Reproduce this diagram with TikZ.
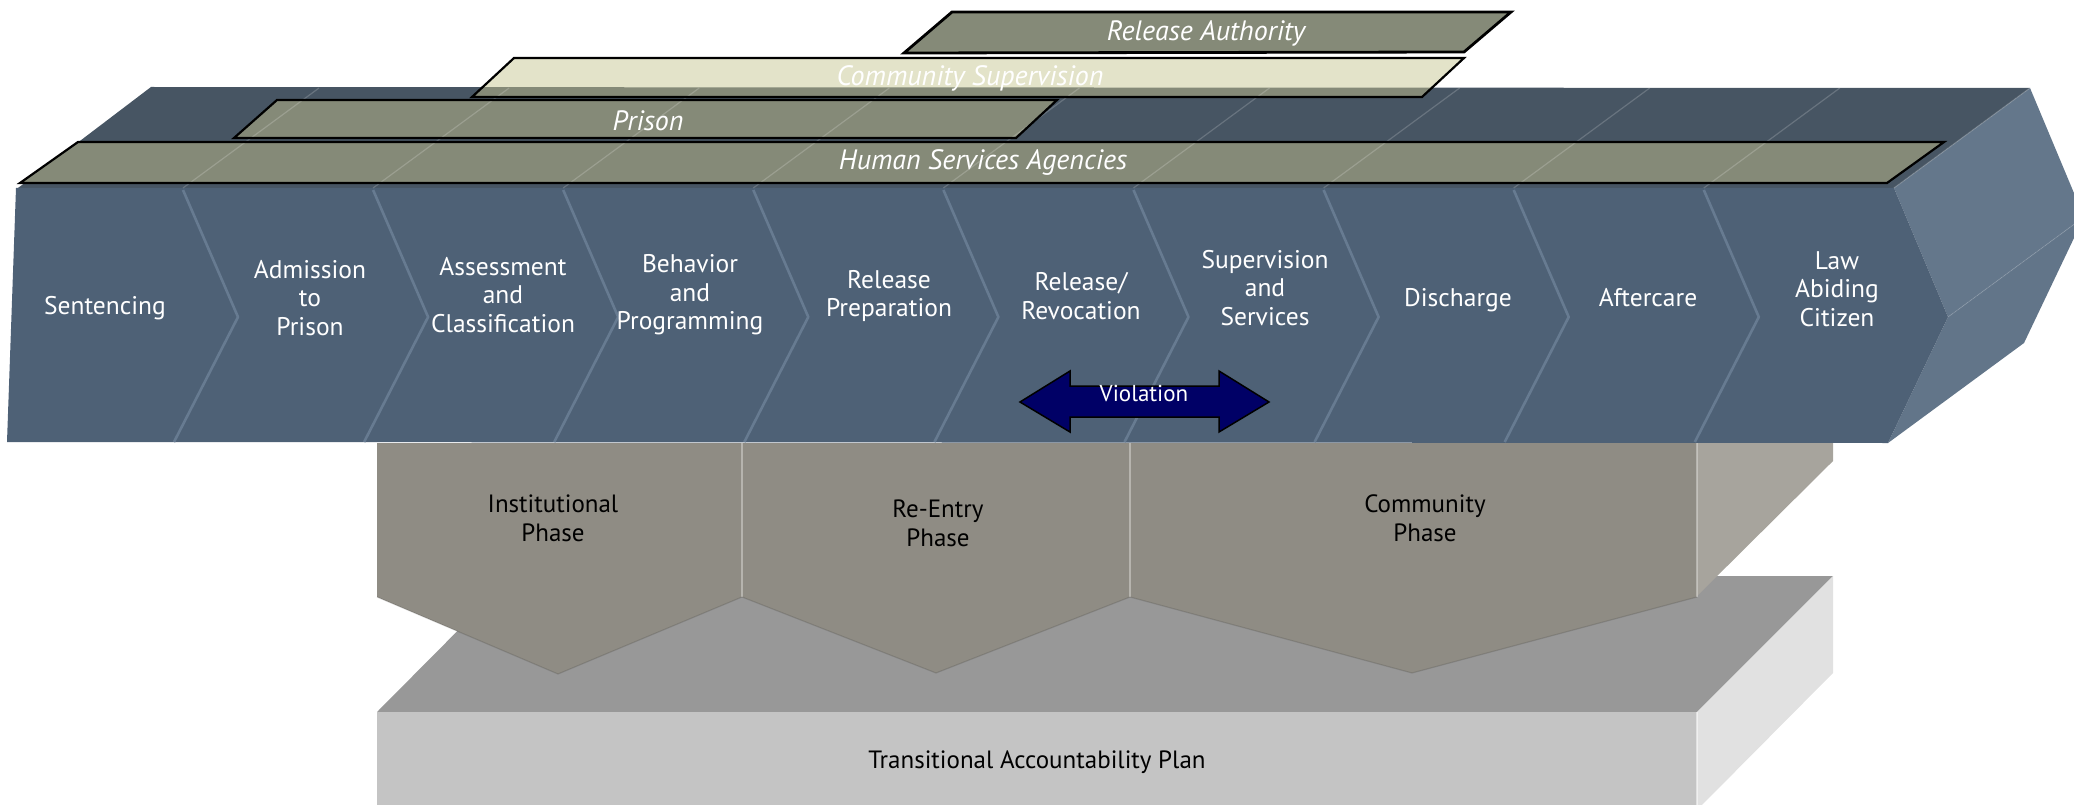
\documentclass[tikz,border=0pt]{standalone}
\usepackage{fontspec}
\setmainfont{PT Sans}
\definecolor{frontblue}{HTML}{4E6176}
\definecolor{topblue}{HTML}{475563}
\definecolor{sideblueA}{HTML}{64778B}
\definecolor{sideblueB}{HTML}{627589}
\definecolor{divblue}{HTML}{677B91}
\definecolor{olive}{HTML}{858A78}
\definecolor{beige}{HTML}{E3E3C9}
\definecolor{navy}{HTML}{000066}
\definecolor{phasegrey}{HTML}{8F8C84}
\definecolor{phaseside}{HTML}{A7A49D}
\definecolor{slabtop}{HTML}{989898}
\definecolor{slabfront}{HTML}{C4C4C4}
\definecolor{slabside}{HTML}{E1E1E1}
\tikzset{
  steplabel/.style={text=white, align=center, inner sep=0pt, font=\fontsize{25.5}{28.5}\selectfont},
  bandlabel/.style={text=white, inner sep=0pt, font=\fontsize{28}{30}\selectfont\itshape},
  phaselabel/.style={text=black, align=center, inner sep=0pt, font=\fontsize{25}{29}\selectfont},
  bandbox/.style={draw=black, line width=2.2pt, line join=miter},
  divline/.style={draw=divblue, line width=2.6pt, line join=round},
  faintline/.style={draw=white, draw opacity=0.18, line width=1.2pt},
}
\begin{document}
\begin{tikzpicture}[x=1pt,y=-1pt]
\useasboundingbox (0,0) rectangle (2074,805);

% ---- base slab
\fill[slabtop] (377,712) -- (512,576) -- (1833,576) -- (1697,712) -- cycle;
\fill[slabfront] (377,712) rectangle (1697,805);
\fill[slabside] (1697,712) -- (1833,576) -- (1833,673) -- (1697,810) -- cycle;
\draw[draw=white, draw opacity=0.5, line width=1.2pt] (1697,712) -- (1697,805);
\node[phaselabel] (tap) at (1037,762) {Transitional Accountability Plan};

% ---- phases
\fill[phaseside] (1697,443) -- (1833,443) -- (1833,461) -- (1697,596) -- cycle;
\fill[phasegrey] (377,443) -- (742,443) -- (742,597) -- (558,674) -- (377,597) -- cycle;
\fill[phasegrey] (742,443) -- (1130,443) -- (1130,597) -- (936,673) -- (742,597) -- cycle;
\fill[phasegrey] (1130,443) -- (1697,443) -- (1697,597) -- (1412,673) -- (1130,597) -- cycle;
\draw[draw=white, draw opacity=0.35, line width=1.5pt] (742,443) -- (742,597) (1130,443) -- (1130,597) (1697,443) -- (1697,597);
\draw[draw=black, draw opacity=0.12, line width=1.2pt]
  (377,597) -- (558,674) -- (742,597) -- (936,673) -- (1130,597) -- (1412,673) -- (1697,597);
\node[phaselabel] (inst) at (553,518) {Institutional\\Phase};
\node[phaselabel] (reen) at (938,523) {Re-Entry\\Phase};
\node[phaselabel] (comm) at (1425,518) {Community\\Phase};

% ---- blue block
\fill[sideblueA] (1894,188) -- (2030,88) -- (2084,217) -- (1948,317) -- cycle;
\fill[sideblueB] (1948,317) -- (2084,217) -- (2024,343) -- (1888,443) -- cycle;
\draw[draw=white, draw opacity=0.12, line width=1pt] (1948,317) -- (2084,217);
\fill[topblue] (18,188) -- (151,87) -- (2030,88) -- (1894,188) -- cycle;
\fill[frontblue] (16,188) -- (1894,188) -- (1948,317) -- (1888,443) -- (7,442) -- cycle;
\foreach \k in {0,...,8}{
  \pgfmathsetmacro{\xx}{183+190.1*\k}
  \draw[divline] (\xx,190) -- (\xx+55,317) -- (\xx-9,442);
}

% ---- bands
\fill[olive] (20,183) -- (78,142) -- (1944,142) -- (1887,183) -- cycle;
\fill[olive] (234,138) -- (277,100) -- (1057,100) -- (1016,138) -- cycle;
\fill[beige] (472,97) -- (514,58) -- (1464,58) -- (1422,97) -- cycle;
\begin{scope}
  \clip (18,188) -- (151,87) -- (2030,88) -- (1894,188) -- cycle;
  \fill[olive] (472,97) -- (514,58) -- (1464,58) -- (1422,97) -- cycle;
\end{scope}
\fill[olive] (904,53) -- (952,12) -- (1511,12) -- (1464,52) -- cycle;

% faint depth lines on the top face
\foreach \k in {0,...,9}{
  \pgfmathsetmacro{\xx}{183+190.1*\k}
  \draw[faintline] (\xx,188) -- (\xx+136,88);
}

\draw[bandbox] (20,183) -- (78,142) -- (1944,142) -- (1887,183) -- cycle;
\draw[bandbox] (234,138) -- (277,100) -- (1057,100) -- (1016,138) -- cycle;
\draw[bandbox] (472,97) -- (514,58) -- (1464,58) -- (1422,97) -- cycle;
\draw[bandbox, line width=2.8pt] (904,53) -- (952,12) -- (1511,12) -- (1464,52) -- cycle;

\node[bandlabel] (hsa) at (983,163) {Human Services Agencies};
\node[bandlabel] (pri) at (648,121) {Prison};
\node[bandlabel] (csu) at (970,78) {Community Supervision};
\node[bandlabel] (rau) at (1206,33) {Release Authority};

% ---- step labels
\node[steplabel] (s1) at (105,308) {Sentencing};
\node[steplabel] (s2) at (310,298) {Admission\\to\\Prison};
\node[steplabel] (s3) at (503,295) {Assessment\\and\\Classification};
\node[steplabel] (s4) at (690,295) {Behavior\\and\\Programming};
\node[steplabel] (s5) at (889,296) {Release\\Preparation};
\node[steplabel] (s6) at (1081,296) {Release/\\Revocation};
\node[steplabel] (s7) at (1265,288) {Supervision\\and\\Services};
\node[steplabel] (s8) at (1458,300) {Discharge};
\node[steplabel] (s9) at (1648,298) {Aftercare};
\node[steplabel] (s10) at (1837,289) {Law\\Abiding\\Citizen};

% ---- violation double arrow
\fill[navy, draw=black, line width=1.5pt, line join=miter]
  (1020,402) -- (1070,371) -- (1070,386) -- (1219,386) -- (1219,371) -- (1269,402)
  -- (1219,432) -- (1219,417) -- (1070,417) -- (1070,432) -- cycle;
\node[text=white, inner sep=0pt, font=\fontsize{23}{26}\selectfont] (viol) at (1144,393) {Violation};
\end{tikzpicture}
\end{document}
